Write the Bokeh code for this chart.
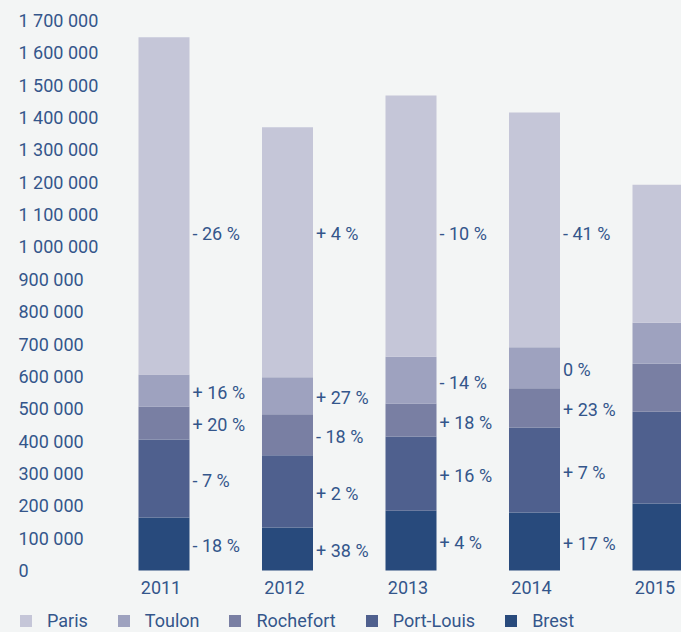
from bokeh.plotting import figure
from bokeh.models import ColumnDataSource, Range1d, Legend, LegendItem, GlobalInlineStyleSheet
from bokeh.core.properties import value
from bokeh.embed import file_html
from bokeh.resources import INLINE

# ---------------- data ----------------
YEARS = ["2011", "2012", "2013", "2014", "2015"]
CITIES_STACK = ["Brest", "Port-Louis", "Rochefort", "Toulon", "Paris"]  # bottom -> top
LEGEND_ORDER = ["Paris", "Toulon", "Rochefort", "Port-Louis", "Brest"]

BREST = [164000, 133000, 185000, 179000, 207000]
PORT_LOUIS = [241000, 223000, 229000, 263000, 284000]
ROCHEFORT = [102000, 127000, 102000, 121000, 148000]
TOULON = [99000, 114000, 145000, 127000, 127000]
PARIS = [1042000, 773000, 807000, 726000, 426000]

# year-on-year change labels (None = not shown)
PCT_PARIS = ["- 26 %", "+ 4 %", "- 10 %", "- 41 %", None]
PCT_TOULON = ["+ 16 %", "+ 27 %", "- 14 %", "0 %", None]
PCT_ROCHEFORT = ["+ 20 %", "- 18 %", "+ 18 %", "+ 23 %", None]
PCT_PORT_LOUIS = ["- 7 %", "+ 2 %", "+ 16 %", "+ 7 %", None]
PCT_BREST = ["- 18 %", "+ 38 %", "+ 4 %", "+ 17 %", None]

Y_TICKS = list(range(0, 1700001, 100000))

# ---------------- style ----------------
BG = "#f3f5f5"
TXT = "#34568b"
FONT = "Roboto"
FS = "18px"
COLORS = {
    "Paris": "#c5c6d8",
    "Toulon": "#9ea2bf",
    "Rochefort": "#797fa3",
    "Port-Louis": "#4f608e",
    "Brest": "#284a7c",
}
BAR_W = 0.413
PARIS_LABEL_Y = 1048000

values = {"Brest": BREST, "Port-Louis": PORT_LOUIS, "Rochefort": ROCHEFORT,
          "Toulon": TOULON, "Paris": PARIS}
pcts = {"Brest": PCT_BREST, "Port-Louis": PCT_PORT_LOUIS, "Rochefort": PCT_ROCHEFORT,
        "Toulon": PCT_TOULON, "Paris": PCT_PARIS}

xs = list(range(len(YEARS)))
data = {"x": xs}
data.update(values)
source = ColumnDataSource(data)

p = figure(width=681, height=632,
           x_range=Range1d(-1.3239, 4.1903), y_range=Range1d(-191636, 1761800),
           output_backend="svg", toolbar_location=None,
           x_axis_location=None, y_axis_location=None,
           min_border=0, min_border_left=0, min_border_right=0,
           min_border_top=0, min_border_bottom=0,
           background_fill_color=BG, border_fill_color=BG,
           outline_line_color=None)
p.grid.grid_line_color = None
p.stylesheets = [GlobalInlineStyleSheet(css="html, body { background-color: #f3f5f5; }")]

renderers = p.vbar_stack(CITIES_STACK, x="x", width=BAR_W, source=source,
                         color=[COLORS[c] for c in CITIES_STACK], line_color=None)
rend_by_city = dict(zip(CITIES_STACK, renderers))

# percentage labels
lx, ly, lt = [], [], []
for i in xs:
    bottom = 0
    for c in CITIES_STACK:
        v = values[c][i]
        t = pcts[c][i]
        if t is not None:
            lx.append(i + BAR_W / 2)
            ly.append(PARIS_LABEL_Y if c == "Paris" else bottom + v / 2)
            lt.append(t)
        bottom += v
p.text(x=lx, y=ly, text=lt, x_offset=3, y_offset=2,
       text_font=value(FONT), text_font_size=FS, text_color=TXT,
       text_align="left", text_baseline="middle")

# y tick labels
p.text(x=[p.x_range.start] * len(Y_TICKS), y=Y_TICKS,
       text=[f"{v:,}".replace(",", " ") for v in Y_TICKS],
       x_offset=18, text_font=value(FONT), text_font_size=FS, text_color=TXT,
       text_align="left", text_baseline="middle")

# year labels
p.text(x=xs, y=[0] * len(xs), text=YEARS, x_offset=-3, y_offset=17,
       text_font=value(FONT), text_font_size=FS, text_color=TXT,
       text_align="center", text_baseline="middle")

legend = Legend(items=[LegendItem(label=c, renderers=[rend_by_city[c]]) for c in LEGEND_ORDER],
                orientation="horizontal", location=(18, 1),
                glyph_width=15, glyph_height=15, label_standoff=14, spacing=28,
                padding=0, margin=0,
                label_text_font=FONT, label_text_font_size=FS, label_text_color=TXT,
                background_fill_alpha=0, border_line_color=None)
p.add_layout(legend)

open("out.html", "w").write(file_html(p, INLINE))
